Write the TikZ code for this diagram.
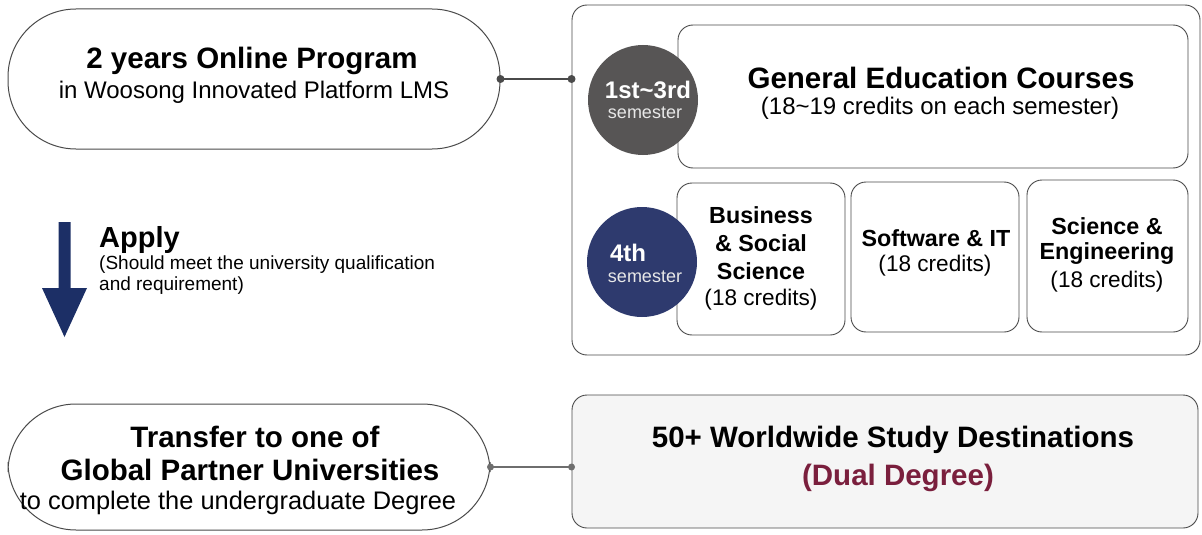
\documentclass[tikz,border=0pt]{standalone}
\usepackage{fontspec}
\setmainfont{Liberation Sans}
\definecolor{linegray}{HTML}{4A4A4A}
\definecolor{semgray}{HTML}{575555}
\definecolor{semnavy}{HTML}{2E3A6E}
\definecolor{arrownavy}{HTML}{1C2F66}
\definecolor{maroon}{HTML}{7A1F3D}
\definecolor{lightfill}{HTML}{F5F5F5}
\begin{document}
\begin{tikzpicture}[x=1pt,y=-1pt,
  pill/.style={draw=linegray, line width=1pt, rectangle, rounded corners=68pt, inner sep=0pt},
  rbox/.style={draw=linegray, line width=0.9pt, rectangle, rounded corners=15pt, inner sep=0pt},
  semcircle/.style={circle, inner sep=0pt, minimum size=110pt},
  dotc/.style={circle, fill=linegray, inner sep=0pt, minimum size=8pt},
  txt/.style={inner sep=0pt, align=center, text=black},
  bigb/.style={font=\fontsize{29.5}{33}\selectfont\bfseries},
  midb/.style={font=\fontsize{23.3}{27}\selectfont\bfseries},
  reg/.style={font=\fontsize{24}{28}\selectfont},
  cred/.style={font=\fontsize{22.6}{26}\selectfont},
  small/.style={font=\fontsize{19}{21}\selectfont},
  semb/.style={font=\fontsize{24}{28}\selectfont\bfseries, text=white},
  seml/.style={font=\fontsize{18}{22}\selectfont, text=white!82!gray}
]
\useasboundingbox (0,0) rectangle (1202,535);
% left pills
\node[pill, minimum width=492pt, minimum height=140pt] (p1) at (254,79) {};
\node[txt, bigb] (p1a) at (252,61) {2 years Online Program};
\node[txt, reg] (p1b) at (254,92) {in Woosong Innovated Platform LMS};

\node[pill, minimum width=482pt, minimum height=126pt] (p2) at (249,467) {};
\node[txt, bigb] (p2a) at (255,437) {Transfer to one of};
\node[txt, bigb] (p2b) at (250,470) {Global Partner Universities};
\node[txt, font=\fontsize{25.4}{29}\selectfont] (p2c) at (238,503) {to complete the undergraduate Degree};

% outer box
\node[rbox, minimum width=628pt, minimum height=350pt] (outer) at (886,180) {};
% general education
\node[rbox, minimum width=510pt, minimum height=143pt] (gen) at (933,96.5) {};
\node[txt, bigb] (gena) at (941,78) {General Education Courses};
\node[txt, reg] (genb) at (940,108) {(18\textasciitilde 19 credits on each semester)};
% three boxes
\node[rbox, minimum width=168pt, minimum height=152pt] (bus) at (761,259) {};
\node[rbox, minimum width=168pt, minimum height=150pt] (soft) at (935,257) {};
\node[rbox, minimum width=161pt, minimum height=152pt] (sci) at (1107.5,256) {};
\node[txt, midb] (busa) at (761,215) {Business};
\node[txt, midb] (busb) at (761,243) {\& Social};
\node[txt, midb] (busc) at (761,271) {Science};
\node[txt, cred] (busd) at (761,300) {(18 credits)};
\node[txt, midb] (softa) at (936,238) {Software \& IT};
\node[txt, cred] (softb) at (935,266) {(18 credits)};
\node[txt, midb] (scia) at (1107,226) {Science \&};
\node[txt, midb] (scib) at (1107,254) {Engineering};
\node[txt, cred] (scic) at (1107,282) {(18 credits)};
% semester circles
\node[semcircle, fill=semgray] (s1) at (643,100) {};
\node[txt, semb] (s1a) at (648,90) {1st\textasciitilde 3rd};
\node[txt, seml] (s1b) at (645,113) {semester};
\node[semcircle, fill=semnavy] (s2) at (642,262) {};
\node[txt, semb] (s2a) at (628,253) {4th};
\node[txt, seml] (s2b) at (645,277) {semester};

% bottom box
\node[rbox, fill=lightfill, minimum width=626pt, minimum height=133pt] (dest) at (885,461.5) {};
\node[txt, bigb] (desta) at (893,440) {50+ Worldwide Study Destinations};
\node[txt, bigb, text=maroon] (destb) at (898,478) {(Dual Degree)};

% connectors
\coordinate (c1a) at (p1.east);
\coordinate (c1b) at (p1.east -| outer.west);
\draw[linegray, line width=1.2pt] (c1a) -- (c1b);
\node[dotc] (d1) at (c1a) {};
\node[dotc] (d2) at (c1b) {};
\coordinate (c2a) at (p2.east);
\coordinate (c2b) at (p2.east -| dest.west);
\draw[linegray!80, line width=1.2pt] (c2a) -- (c2b);
\node[dotc, fill=linegray!80, minimum size=7pt] (d3) at (c2a) {};
\node[dotc, fill=linegray!80, minimum size=7pt] (d4) at (c2b) {};

% apply arrow
\coordinate (atip) at (64.5,337);
\fill[arrownavy] (58.5,222) -- (70.5,222) -- (70.5,288) -- (87,288) -- (atip) -- (42,288) -- (58.5,288) -- cycle;
\node[txt, anchor=west, font=\fontsize{29}{33}\selectfont\bfseries] (apply) at (99,240) {Apply};
\node[txt, anchor=north west, align=left, small] (applyb) at (99,256) {(Should meet the university qualification\\and requirement)};
\end{tikzpicture}
\end{document}
